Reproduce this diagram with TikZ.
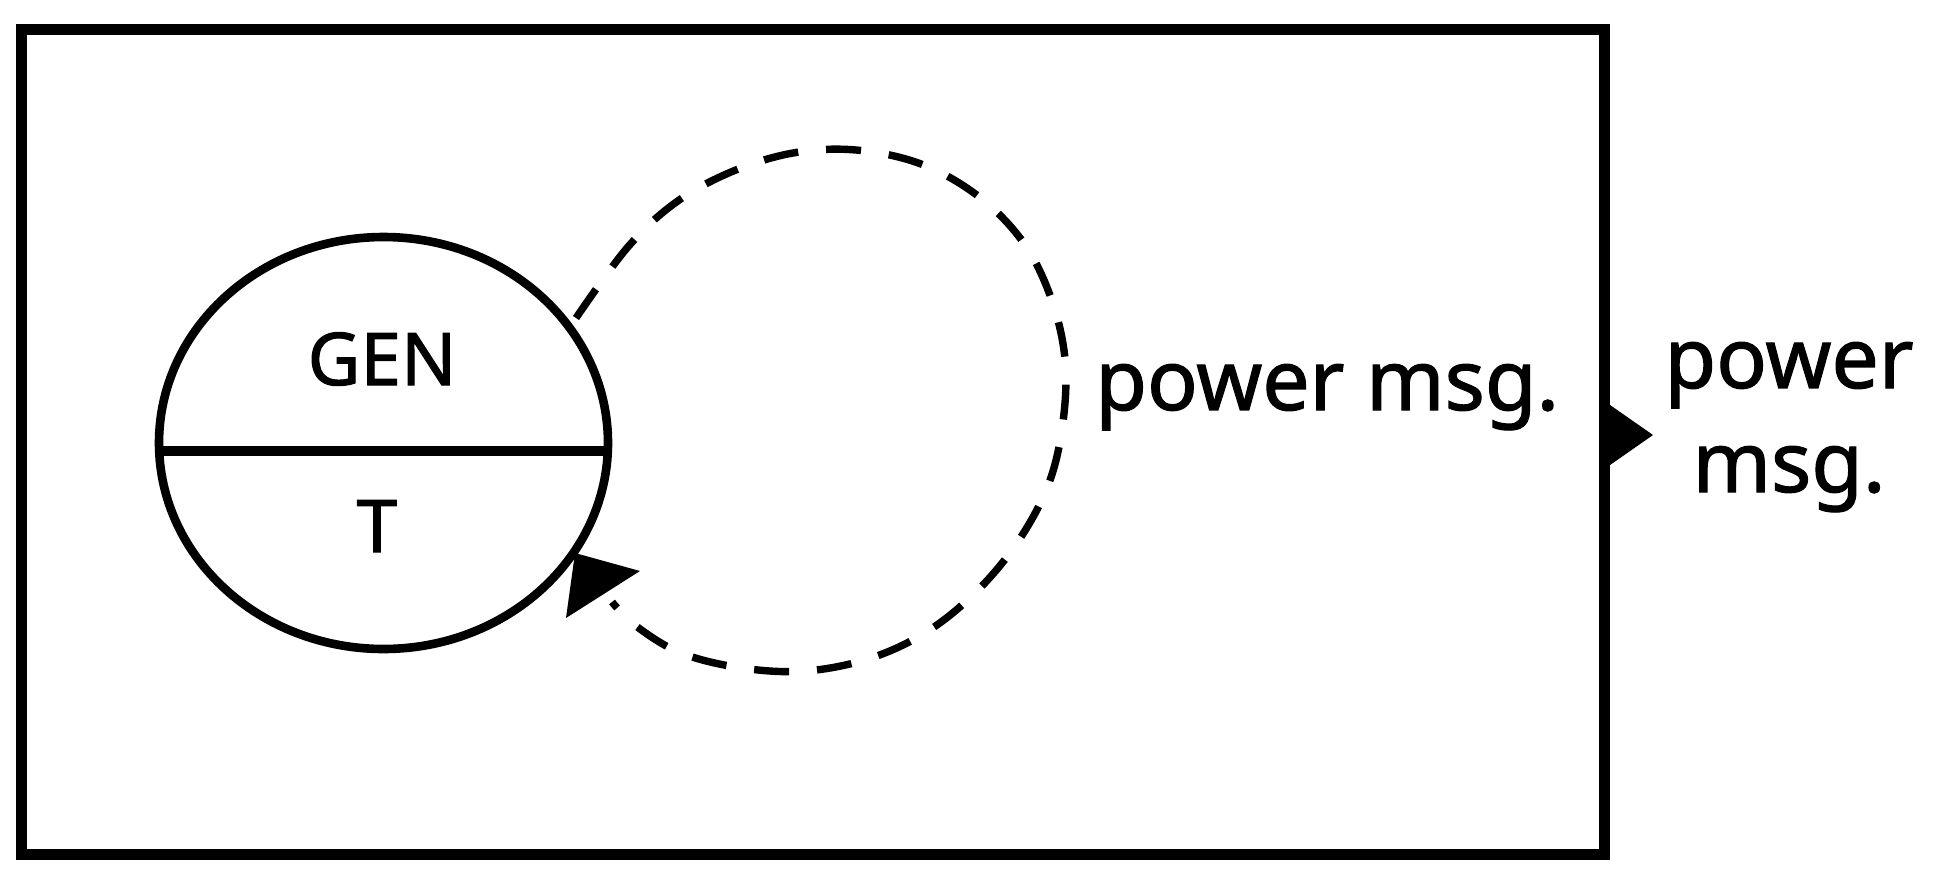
\documentclass[tikz,border=0pt]{standalone}
\usepackage{fontspec}
\setmainfont{Noto Sans}
\newfontfamily\labelfont{Noto Sans}[FakeBold=1.4]
\usetikzlibrary{shapes.geometric}
\begin{document}
\begin{tikzpicture}[x=0.5pt,y=-0.5pt,
  frame/.style={draw=black,line width=5.5pt},
  statebox/.style={draw=black,ellipse,line width=4.3pt,inner sep=0pt,
    minimum width=224.5pt,minimum height=206pt},
  divider/.style={draw=black,line width=5pt},
  loopline/.style={draw=black,line width=3.7pt,dash pattern=on 17.5pt off 14pt},
  tip/.style={fill=black,draw=none},
  statelabel/.style={inner sep=0pt,anchor=base,font=\labelfont\fontsize{36.4pt}{44pt}\selectfont},
  msglabel/.style={inner sep=0pt,font=\labelfont\fontsize{42pt}{52pt}\selectfont}]
\useasboundingbox (0,0) rectangle (1939,884);
\draw[frame] (21,29) rectangle (1604,854);
\node[statebox] (gen) at (383.5,443) {};
\draw[divider] (gen.182.3) -- (gen.-2.3);
\node[statelabel] (genlabel) at (382,385) {GEN};
\node[statelabel] (tlabel) at (377,552) {T};
\coordinate (ls) at (576,318);
\coordinate (le) at (612,602);
\draw[loopline] plot[smooth,tension=0.6] coordinates {(ls) (627,248) (675,203) (731,172) (793,153) (856,150) (921,164) (978,196) (1023,242) (1051,298) (1065,359) (1063,422) (1049,483) (1019,540) (978,590) (928,631) (871,658) (806,671) (742,668) (681,653) (636,626) (le)};
\fill[tip] (566,618) -- (575,553) -- (640,571) -- cycle;
\fill[tip] (1600,398) -- (1653,435) -- (1600,472) -- cycle;
\node[msglabel,anchor=base west] (inner) at (1095,410) {power msg.};
\node[msglabel,anchor=base,align=center] (outer) at (1789,492) {power\\msg.};
\end{tikzpicture}
\end{document}
